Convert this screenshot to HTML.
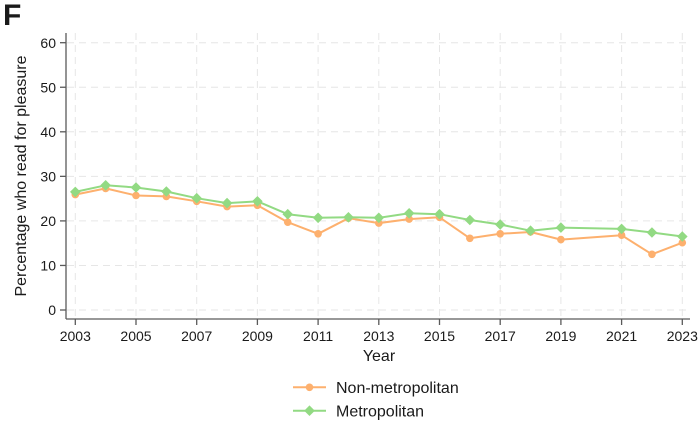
<!DOCTYPE html>
<html>
<head>
<meta charset="utf-8">
<style>
html,body{margin:0;padding:0;background:#fff;}
svg{display:block;}
text{font-family:"Liberation Sans",Arial,sans-serif;fill:#1a1a1a;}
</style>
</head>
<body>
<svg width="700" height="425" viewBox="0 0 700 425" xmlns="http://www.w3.org/2000/svg">
<rect width="700" height="425" fill="#fff"/>
<text x="3" y="25" font-size="30" font-weight="bold" fill="#000">F</text>

<!-- gridlines -->
<g stroke="#e6e6e6" stroke-width="1" stroke-dasharray="7,5">
  <line x1="67" y1="310" x2="690" y2="310"/>
  <line x1="67" y1="265.45" x2="690" y2="265.45"/>
  <line x1="67" y1="220.9" x2="690" y2="220.9"/>
  <line x1="67" y1="176.35" x2="690" y2="176.35"/>
  <line x1="67" y1="131.8" x2="690" y2="131.8"/>
  <line x1="67" y1="87.25" x2="690" y2="87.25"/>
  <line x1="67" y1="42.7" x2="690" y2="42.7"/>
  <line x1="75.3" y1="33" x2="75.3" y2="318"/>
  <line x1="136" y1="33" x2="136" y2="318"/>
  <line x1="196.7" y1="33" x2="196.7" y2="318"/>
  <line x1="257.4" y1="33" x2="257.4" y2="318"/>
  <line x1="318.1" y1="33" x2="318.1" y2="318"/>
  <line x1="378.8" y1="33" x2="378.8" y2="318"/>
  <line x1="439.5" y1="33" x2="439.5" y2="318"/>
  <line x1="500.2" y1="33" x2="500.2" y2="318"/>
  <line x1="560.9" y1="33" x2="560.9" y2="318"/>
  <line x1="621.6" y1="33" x2="621.6" y2="318"/>
  <line x1="682.3" y1="33" x2="682.3" y2="318"/>
</g>

<!-- axes -->
<g stroke="#5a5a5a" stroke-width="1.3" fill="none">
  <line x1="66" y1="33" x2="66" y2="319"/>
  <line x1="66" y1="319" x2="690" y2="319"/>
  <line x1="60" y1="310" x2="66" y2="310"/>
  <line x1="60" y1="265.45" x2="66" y2="265.45"/>
  <line x1="60" y1="220.9" x2="66" y2="220.9"/>
  <line x1="60" y1="176.35" x2="66" y2="176.35"/>
  <line x1="60" y1="131.8" x2="66" y2="131.8"/>
  <line x1="60" y1="87.25" x2="66" y2="87.25"/>
  <line x1="60" y1="42.7" x2="66" y2="42.7"/>
  <line x1="75.3" y1="319" x2="75.3" y2="325"/>
  <line x1="136" y1="319" x2="136" y2="325"/>
  <line x1="196.7" y1="319" x2="196.7" y2="325"/>
  <line x1="257.4" y1="319" x2="257.4" y2="325"/>
  <line x1="318.1" y1="319" x2="318.1" y2="325"/>
  <line x1="378.8" y1="319" x2="378.8" y2="325"/>
  <line x1="439.5" y1="319" x2="439.5" y2="325"/>
  <line x1="500.2" y1="319" x2="500.2" y2="325"/>
  <line x1="560.9" y1="319" x2="560.9" y2="325"/>
  <line x1="621.6" y1="319" x2="621.6" y2="325"/>
  <line x1="682.3" y1="319" x2="682.3" y2="325"/>
</g>

<!-- y tick labels -->
<g font-size="14" text-anchor="end">
  <text x="56" y="315">0</text>
  <text x="56" y="270.5">10</text>
  <text x="56" y="226">20</text>
  <text x="56" y="181.4">30</text>
  <text x="56" y="136.9">40</text>
  <text x="56" y="92.3">50</text>
  <text x="56" y="47.8">60</text>
</g>
<!-- x tick labels -->
<g font-size="14" text-anchor="middle">
  <text x="75.3" y="341">2003</text>
  <text x="136" y="341">2005</text>
  <text x="196.7" y="341">2007</text>
  <text x="257.4" y="341">2009</text>
  <text x="318.1" y="341">2011</text>
  <text x="378.8" y="341">2013</text>
  <text x="439.5" y="341">2015</text>
  <text x="500.2" y="341">2017</text>
  <text x="560.9" y="341">2019</text>
  <text x="621.6" y="341">2021</text>
  <text x="682.3" y="341">2023</text>
</g>

<text x="379" y="361" font-size="16" text-anchor="middle">Year</text>
<text transform="translate(26,176) rotate(-90)" font-size="16" text-anchor="middle">Percentage who read for pleasure</text>

<!-- Non-metropolitan -->
<polyline fill="none" stroke="#fdb06e" stroke-width="2" stroke-linejoin="round"
 points="75.3,194.6 105.65,188.4 136,195.5 166.35,196.4 196.7,201.3 227.05,206.6 257.4,205.3 287.75,222.2 318.1,233.8 348.45,218.2 378.8,223.1 409.15,219.1 439.5,217.3 469.85,238.3 500.2,233.8 530.55,232 560.9,239.6 621.6,235.2 651.95,254.3 682.3,242.7"/>
<g fill="#fdb06e">
  <circle cx="75.3" cy="194.6" r="3.8"/>
  <circle cx="105.65" cy="188.4" r="3.8"/>
  <circle cx="136" cy="195.5" r="3.8"/>
  <circle cx="166.35" cy="196.4" r="3.8"/>
  <circle cx="196.7" cy="201.3" r="3.8"/>
  <circle cx="227.05" cy="206.6" r="3.8"/>
  <circle cx="257.4" cy="205.3" r="3.8"/>
  <circle cx="287.75" cy="222.2" r="3.8"/>
  <circle cx="318.1" cy="233.8" r="3.8"/>
  <circle cx="348.45" cy="218.2" r="3.8"/>
  <circle cx="378.8" cy="223.1" r="3.8"/>
  <circle cx="409.15" cy="219.1" r="3.8"/>
  <circle cx="439.5" cy="217.3" r="3.8"/>
  <circle cx="469.85" cy="238.3" r="3.8"/>
  <circle cx="500.2" cy="233.8" r="3.8"/>
  <circle cx="530.55" cy="232" r="3.8"/>
  <circle cx="560.9" cy="239.6" r="3.8"/>
  <circle cx="621.6" cy="235.2" r="3.8"/>
  <circle cx="651.95" cy="254.3" r="3.8"/>
  <circle cx="682.3" cy="242.7" r="3.8"/>
</g>

<!-- Metropolitan -->
<polyline fill="none" stroke="#92da83" stroke-width="2" stroke-linejoin="round"
 points="75.3,191.9 105.65,185.3 136,187.5 166.35,191.5 196.7,198.2 227.05,203.1 257.4,201.3 287.75,214.2 318.1,217.8 348.45,217.3 378.8,217.8 409.15,213.3 439.5,214.2 469.85,220 500.2,224.5 530.55,230.7 560.9,227.6 621.6,228.9 651.95,232.5 682.3,236.5"/>
<g fill="#92da83" id="dia">
  <path d="M75.3,186.6 l5.3,5.3 l-5.3,5.3 l-5.3,-5.3z"/>
  <path d="M105.65,180 l5.3,5.3 l-5.3,5.3 l-5.3,-5.3z"/>
  <path d="M136,182.2 l5.3,5.3 l-5.3,5.3 l-5.3,-5.3z"/>
  <path d="M166.35,186.2 l5.3,5.3 l-5.3,5.3 l-5.3,-5.3z"/>
  <path d="M196.7,192.9 l5.3,5.3 l-5.3,5.3 l-5.3,-5.3z"/>
  <path d="M227.05,197.8 l5.3,5.3 l-5.3,5.3 l-5.3,-5.3z"/>
  <path d="M257.4,196 l5.3,5.3 l-5.3,5.3 l-5.3,-5.3z"/>
  <path d="M287.75,208.9 l5.3,5.3 l-5.3,5.3 l-5.3,-5.3z"/>
  <path d="M318.1,212.5 l5.3,5.3 l-5.3,5.3 l-5.3,-5.3z"/>
  <path d="M348.45,212 l5.3,5.3 l-5.3,5.3 l-5.3,-5.3z"/>
  <path d="M378.8,212.5 l5.3,5.3 l-5.3,5.3 l-5.3,-5.3z"/>
  <path d="M409.15,208 l5.3,5.3 l-5.3,5.3 l-5.3,-5.3z"/>
  <path d="M439.5,208.9 l5.3,5.3 l-5.3,5.3 l-5.3,-5.3z"/>
  <path d="M469.85,214.7 l5.3,5.3 l-5.3,5.3 l-5.3,-5.3z"/>
  <path d="M500.2,219.2 l5.3,5.3 l-5.3,5.3 l-5.3,-5.3z"/>
  <path d="M530.55,225.4 l5.3,5.3 l-5.3,5.3 l-5.3,-5.3z"/>
  <path d="M560.9,222.3 l5.3,5.3 l-5.3,5.3 l-5.3,-5.3z"/>
  <path d="M621.6,223.6 l5.3,5.3 l-5.3,5.3 l-5.3,-5.3z"/>
  <path d="M651.95,227.2 l5.3,5.3 l-5.3,5.3 l-5.3,-5.3z"/>
  <path d="M682.3,231.2 l5.3,5.3 l-5.3,5.3 l-5.3,-5.3z"/>
</g>

<!-- legend -->
<line x1="293" y1="387.3" x2="326" y2="387.3" stroke="#fdb06e" stroke-width="2"/>
<circle cx="309.5" cy="387.3" r="3.8" fill="#fdb06e"/>
<text x="336" y="393" font-size="16">Non-metropolitan</text>
<line x1="293" y1="410.7" x2="326" y2="410.7" stroke="#92da83" stroke-width="2"/>
<path d="M309.5,405.4 l5.3,5.3 l-5.3,5.3 l-5.3,-5.3z" fill="#92da83"/>
<text x="336" y="416.5" font-size="16">Metropolitan</text>
</svg>
</body>
</html>
